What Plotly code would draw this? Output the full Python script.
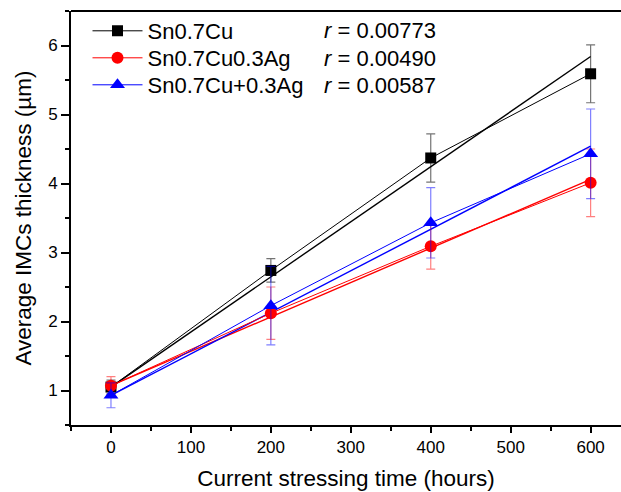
import plotly.graph_objects as go

# ---- data ----
time_h = [0, 200, 400, 600]
names = ["Sn0.7Cu", "Sn0.7Cu0.3Ag", "Sn0.7Cu+0.3Ag"]
r_labels = ["0.00773", "0.00490", "0.00587"]

cu = [1.05, 2.74, 4.37, 5.59]
cu_err = [0.10, 0.17, 0.35, 0.42]
cuag = [1.07, 2.12, 3.09, 4.01]
cuag_err = [0.13, 0.38, 0.33, 0.49]
cuplus = [0.93, 2.23, 3.43, 4.43]
cuplus_err = [0.18, 0.57, 0.51, 0.65]

fit_x = [0, 600]
cu_fit = [1.05, 5.84]
cuag_fit = [1.07, 4.06]
cuplus_fit = [0.93, 4.54]

series = [
    (names[0], cu, cu_err, cu_fit, "#000000", "rgba(0,0,0,0.55)", "square", 11),
    (names[1], cuag, cuag_err, cuag_fit, "#ff0000", "rgba(255,0,0,0.5)", "circle", 12),
    (names[2], cuplus, cuplus_err, cuplus_fit, "#0000ff", "rgba(0,0,255,0.5)", "triangle-up", 13),
]
legend_ids = ["legend", "legend2", "legend3"]
legend_y_px = [31, 58, 85]

FONT = "Liberation Sans, Arial, sans-serif"
PLOT_TOP, PLOT_H = 11, 414

def paper_y(ypx):
    return 1 - (ypx - PLOT_TOP) / PLOT_H

fig = go.Figure()
# fit lines
for nm, y, e, f, col, ecol, sym, ms in series:
    fig.add_trace(go.Scatter(x=fit_x, y=f, mode="lines", showlegend=False,
                             line=dict(color=col, width=1.4), hoverinfo="skip"))
# data lines with markers and error bars
for (nm, y, e, f, col, ecol, sym, ms), lid in zip(series, legend_ids):
    fig.add_trace(go.Scatter(
        x=time_h, y=y, mode="lines+markers", name=nm, legend=lid,
        line=dict(color=col, width=1.0),
        marker=dict(symbol=sym, size=ms, color=col, line=dict(width=0)),
        error_y=dict(type="data", array=e, visible=True, color=ecol,
                     thickness=1.2, width=4.5),
    ))

# r annotations beside legend
for lab, ypx in zip(r_labels, legend_y_px):
    fig.add_annotation(xref="paper", yref="paper",
                       x=(322 - 71) / (621 - 71), y=paper_y(ypx),
                       text=f"<i>r</i> = {lab}", showarrow=False, xanchor="left",
                       yanchor="middle", font=dict(size=22, color="black", family=FONT))

# top border line
fig.add_shape(type="line", xref="paper", yref="paper", x0=0, x1=1, y0=1, y1=1,
              line=dict(color="black", width=2))

legend_common = dict(x=0.03, xanchor="left", yanchor="middle",
                     font=dict(size=22, family=FONT), bgcolor="rgba(0,0,0,0)",
                     itemwidth=50)

fig.update_layout(
    width=621, height=492,
    margin=dict(l=71, r=0, t=11, b=67),
    paper_bgcolor="white", plot_bgcolor="white",
    font=dict(family=FONT, size=17, color="black"),
    showlegend=True,
    legend=dict(y=paper_y(legend_y_px[0]), **legend_common),
    legend2=dict(y=paper_y(legend_y_px[1]), **legend_common),
    legend3=dict(y=paper_y(legend_y_px[2]), **legend_common),
    xaxis=dict(range=[-50, 638], showgrid=False, zeroline=False,
               showline=True, linecolor="black", linewidth=2,
               ticks="outside", ticklen=6, tickwidth=2, tickcolor="black",
               tickvals=[0, 100, 200, 300, 400, 500, 600],
               minor=dict(tickvals=[-50, 50, 150, 250, 350, 450, 550],
                          ticks="outside", ticklen=4, tickwidth=2, tickcolor="black"),
               tickfont=dict(size=17),
               title=dict(text="Current stressing time (hours)", font=dict(size=22.5), standoff=14)),
    yaxis=dict(range=[0.5, 6.5], showgrid=False, zeroline=False,
               showline=True, linecolor="black", linewidth=2,
               ticks="outside", ticklen=8, tickwidth=2, tickcolor="black",
               tickvals=[1, 2, 3, 4, 5, 6],
               minor=dict(tickvals=[0.5, 1.5, 2.5, 3.5, 4.5, 5.5, 6.5],
                          ticks="outside", ticklen=4, tickwidth=2, tickcolor="black"),
               tickfont=dict(size=17),
               title=dict(text="Average IMCs thickness (µm)", font=dict(size=22.5), standoff=10)),
)

fig.write_html("out.html")
